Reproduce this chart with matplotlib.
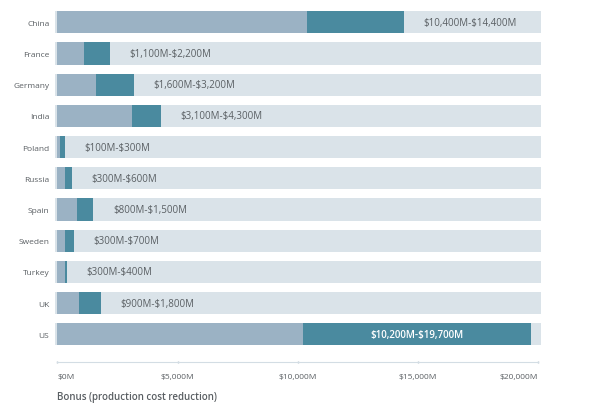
import matplotlib
matplotlib.use("Agg")
import matplotlib.pyplot as plt

countries = ["China", "France", "Germany", "India", "Poland", "Russia",
             "Spain", "Sweden", "Turkey", "UK", "US"]
low = [10400, 1100, 1600, 3100, 100, 300, 800, 300, 300, 900, 10200]
high = [14400, 2200, 3200, 4300, 300, 600, 1500, 700, 400, 1800, 19700]
labels = ["$10,400M-$14,400M", "$1,100M-$2,200M", "$1,600M-$3,200M",
          "$3,100M-$4,300M", "$100M-$300M", "$300M-$600M", "$800M-$1,500M",
          "$300M-$700M", "$300M-$400M", "$900M-$1,800M", "$10,200M-$19,700M"]
xticks = [0, 5000, 10000, 15000, 20000]
xticklabels = ["$0M", "$5,000M", "$10,000M", "$15,000M", "$20,000M"]

plt.rcParams['font.family'] = ['Open Sans', 'DejaVu Sans']
plt.rcParams['text.parse_math'] = False

BG = "#dae3e9"
LIGHT = "#9bb2c4"
DARK = "#4a8a9f"
TXT = "#5a5f63"

fig = plt.figure(figsize=(6, 4.06), dpi=100)
ax = fig.add_axes([55/600, 1-363/406, (541-55)/600, (363-5)/406])

xmin, xmax = -100, 20120
y = list(range(len(countries)))
h = 0.715
ax.barh(y, [xmax - xmin]*len(y), left=xmin, height=h, color=BG, zorder=1)
ax.barh(y, high, left=0, height=h, color=DARK, zorder=2)
ax.barh(y, low, left=0, height=h, color=LIGHT, zorder=3)

for i, (lo, hi, lab) in enumerate(zip(low, high, labels)):
    if hi > 18000:
        ax.text((lo + hi) / 2, i, lab, ha="center", va="center",
                color="white", fontsize=7, fontweight="semibold", zorder=4)
    else:
        ax.annotate(lab, (hi, i), xytext=(14, 0), textcoords="offset points",
                    ha="left", va="center", color=TXT, fontsize=7, zorder=4)

ax.set_xlim(xmin, xmax)
ax.set_ylim(10.89, -0.587)
ax.set_yticks(y)
ax.set_yticklabels(countries, fontsize=6, color=TXT)
ax.tick_params(axis="y", length=0, pad=4)

ax.set_xticks(xticks)
ax.set_xticklabels(xticklabels, fontsize=6, color=TXT)
tl = ax.get_xticklabels()
tl[0].set_ha("left")
tl[-1].set_ha("right")
ax.tick_params(axis="x", length=2, width=1, color="#b8c6d0", direction="inout", pad=7)

for s in ["top", "right", "left"]:
    ax.spines[s].set_visible(False)
ax.spines["bottom"].set_color("#d3dde4")
ax.spines["bottom"].set_linewidth(0.8)
ax.spines["bottom"].set_bounds(0, 20000)

fig.text(57/600, 1-398/406, "Bonus (production cost reduction)", fontsize=7,
         fontweight="semibold", color=TXT, ha="left", va="center")

fig.savefig("out.png", dpi=100, facecolor="white")
